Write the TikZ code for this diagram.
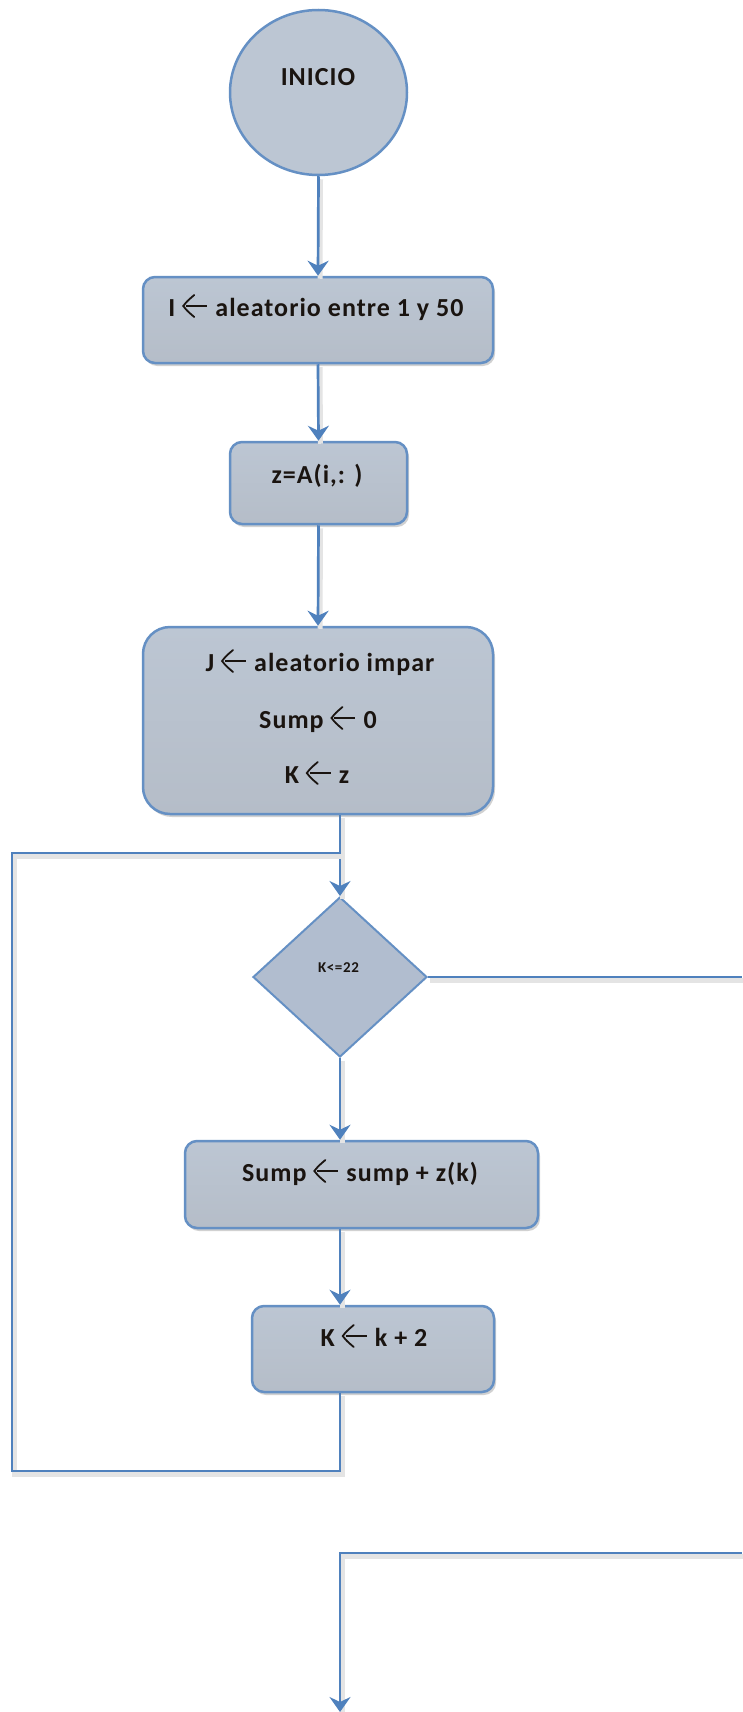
\documentclass[tikz,border=0pt]{standalone}
\usepackage{fontspec}
\setmainfont{Carlito}[LetterSpace=4]
\usetikzlibrary{shapes.geometric,arrows.meta,shadows,calc}
\definecolor{wireblue}{HTML}{4F81BD}
\definecolor{edgeblue}{HTML}{6590C4}
\definecolor{boxtop}{HTML}{BCC6D3}
\definecolor{boxbot}{HTML}{B5BDC8}
\definecolor{diafill}{HTML}{B1BDCF}
\definecolor{wireshade}{HTML}{E4E4E4}
\definecolor{inkdark}{HTML}{1A1410}
% assignment arrow: straight shaft with a curved chevron head
\newcommand{\la}{\tikz[baseline=-10pt, x=1pt, y=1pt]{%
  \draw[inkdark, line width=2.4pt] (4,0) -- (25,0);
  \draw[inkdark, line width=1.8pt, line cap=round] (12,11) .. controls (5,5) .. (1,0) .. controls (5,-5) .. (12,-11);}}
\tikzset{
  x=1pt, y=-1pt,
  procbox/.style={rectangle, rounded corners=12pt, draw=edgeblue, line width=2.5pt,
    top color=boxtop, bottom color=boxbot, inner sep=0pt,
    drop shadow={shadow xshift=2pt, shadow yshift=-3pt, opacity=0.18, fill=black}},
  startnode/.style={ellipse, draw=edgeblue, line width=2.5pt, fill=boxtop, inner sep=0pt,
    minimum width=177pt, minimum height=165pt},
  decision/.style={diamond, draw=edgeblue, line width=2pt, fill=diafill, inner sep=0pt,
    minimum width=174pt, minimum height=160pt},
  lbl/.style={anchor=base, inner sep=0pt, text=inkdark, font=\bfseries\fontsize{26}{28}\selectfont},
  small/.style={anchor=base, inner sep=0pt, text=inkdark, font=\bfseries\fontsize{15}{16}\selectfont},
  wire/.style={draw=wireblue, line width=2.7pt,
    preaction={draw=wireshade, line width=5pt, transform canvas={shift={(2pt,-3pt)}}, -{}}},
  arrowwire/.style={wire, -{Stealth[length=15pt,width=21pt,inset=5pt]}},
}
\begin{document}
\begin{tikzpicture}
\useasboundingbox (0,0) rectangle (742,1712);
\fill[white] (0,0) rectangle (742,1712);

% shapes
\node[startnode] (ini) at (318.5,92.5) {};
\node[procbox, minimum width=350pt, minimum height=86pt] (b1) at (318,320) {};
\node[procbox, minimum width=177pt, minimum height=82pt] (b2) at (318.5,483) {};
\node[procbox, rounded corners=27pt, minimum width=350pt, minimum height=187pt] (b3) at (318,720.5) {};
\node[decision] (dia) at (340,977) {};
\node[procbox, minimum width=353pt, minimum height=87pt] (b4) at (361.5,1184.5) {};
\node[procbox, minimum width=242pt, minimum height=86pt] (b5) at (373,1349) {};

% texts
\node[lbl] (tini) at (318,86) {INICIO};
\node[lbl] (t1) at (316,316) {I \la{} aleatorio entre 1 y 50};
\node[lbl] (t2) at (317,483) {z=A(i,: )};
\node[lbl] (t3a) at (320,671) {J \la{} aleatorio impar};
\node[lbl] (t3b) at (318,728) {Sump \la{} 0};
\node[lbl] (t3c) at (317,783) {K \la{} z};
\node[small] (tdia) at (338.5,972) {K<=22};
\node[lbl] (t4) at (360,1181) {Sump \la{} sump + z(k)};
\node[lbl] (t5) at (374,1346) {K \la{} k + 2};

% free ends and loop corners
\coordinate (join) at (340,853);
\coordinate (loopBL) at (12,1471);
\coordinate (exitR) at (742,977);
\coordinate (inR) at (742,1553);
\coordinate (endB) at (340,1712);

% connectors
\draw[arrowwire] (ini.south) -- (b1.north);
\draw[arrowwire] (b1.south) -- (b2.north);
\draw[arrowwire] (b2.south) -- (b3.north);
\draw[arrowwire] (b3.south -| dia.north) -- (dia.north);
\draw[arrowwire] (dia.south) -- (dia.south |- b4.north);
\draw[arrowwire] (b4.south -| dia.south) -- (b5.north -| dia.south);
\draw[wire] (b5.south -| dia.south) -- (dia.south |- loopBL) -- (loopBL) -- (loopBL |- join) -- (join);
\draw[wire] (dia.east) -- (exitR);
\draw[arrowwire] (inR) -- (inR -| endB) -- (endB);
\end{tikzpicture}
\end{document}
